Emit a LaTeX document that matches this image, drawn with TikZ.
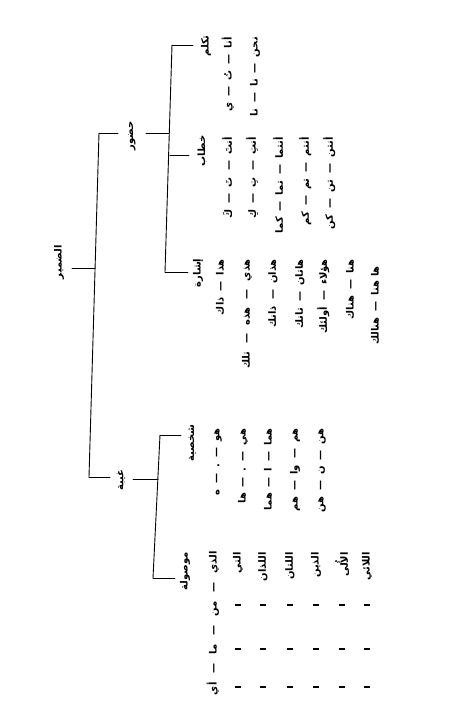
\documentclass[tikz,border=0pt]{standalone}
\usepackage{fontspec}
\TeXXeTstate=1
\newfontfamily\arabicfont[Script=Arabic]{DejaVu Sans}
\newcommand\arsep{\hspace{6pt}—\hspace{6pt}}
\newcommand\arwide{\hspace{9pt}—\hspace{9pt}}
\newcommand\arlong{\hspace{8pt}—\hspace{8pt}}
\begin{document}
\begin{tikzpicture}[x=1pt,y=-1pt,
  ar/.style={font=\arabicfont\bfseries\fontsize{10}{11}\selectfont, rotate=90, inner sep=0pt},
  col/.style={ar, anchor=east},
  br/.style={line width=0.9pt, line cap=round},
  ditto/.style={line width=2.4pt}]
\useasboundingbox (0,0) rectangle (475,722);
% labels
\node[ar] (root)  at (59,262)  {\beginR الضمير\endR};
\node[ar] (hudur) at (132,136) {\beginR حضور\endR};
\node[ar] (ghayba) at (121,480) {\beginR غيبة\endR};
\node[ar] (takal) at (206,46)  {\beginR تكلم\endR};
\node[ar] (khitab) at (202,151) {\beginR خطاب\endR};
\node[ar] (ishara) at (198,273) {\beginR إشارة\endR};
\node[ar] (shakh) at (192,443) {\beginR شخصية\endR};
\node[ar] (mawsul) at (185,571) {\beginR موصولة\endR};
% tree lines
\coordinate (vT) at (99,133);
\coordinate (vB) at (89,477);
\coordinate (vM) at (95,268);
\coordinate (rs) at (72,268);
\draw[br] (vT) -- (vB);
\draw[br] (rs) -- (vM);
\coordinate (hT) at (172,45);
\coordinate (hM) at (170,155);
\coordinate (hB) at (165,272);
\coordinate (hJ) at (169,133);
\draw[br] (vT) -- (118,133);
\draw[br] (146,133) -- (hJ);
\draw[br] (hT) -- (hB);
\draw[br] (hT) -- (193,45);
\draw[br] (hM) -- (189,155);
\draw[br] (hB) -- (188,272);
\coordinate (gT) at (160,435);
\coordinate (gB) at (153,578);
\coordinate (gJ) at (158,479);
\draw[br] (vB) -- (110,477);
\draw[br] (133,479) -- (gJ);
\draw[br] (gT) -- (gB);
\draw[br] (gT) -- (181,435);
\draw[br] (gB) -- (175,578);
% takallum
\node[col] (t1) at (228,37) {\beginR أنا\arsep تُ\arsep ي\endR};
\node[col] (t2) at (255,37) {\beginR نحن\arsep نا\arsep نا\endR};
% khitab
\node[col] (k1) at (227,137) {\beginR أنتَ\arsep تَ\arsep كَ\endR};
\node[col] (k2) at (252,137) {\beginR أنتِ\arsep تِ\arsep كِ\endR};
\node[col] (k3) at (278,137) {\beginR أنتما\arsep تما\arsep كما\endR};
\node[col] (k4) at (305,137) {\beginR أنتم\arsep تم\arsep كم\endR};
\node[col] (k5) at (329,137) {\beginR أنتن\arsep تن\arsep كن\endR};
% ishara
\node[col] (i1) at (220,259) {\beginR هذا\arsep ذاك\endR};
\node[col] (i2) at (247,259) {\beginR هذي\arlong هذه\arlong تلك\endR};
\node[col] (i3) at (273,259) {\beginR هذان\arsep ذانك\endR};
\node[col] (i4) at (300,259) {\beginR هاتان\arsep تانك\endR};
\node[col] (i5) at (323,259) {\beginR هؤلاء\arsep أولئك\endR};
\node[col] (i6) at (350,259) {\beginR هنا\arsep هناك\endR};
\node[col] (i7) at (375,266) {\beginR ها هنا\arsep هنالك\endR};
% shakhsiyya
\node[col] (s1) at (218,428) {\beginR هو\arsep .\arsep ه\endR};
\node[col] (s2) at (243,428) {\beginR هي\arsep .\arsep ها\endR};
\node[col] (s3) at (268,428) {\beginR هما\arsep ا\arsep هما\endR};
\node[col] (s4) at (295,428) {\beginR هم\arsep وا\arsep هم\endR};
\node[col] (s5) at (322,428) {\beginR هن\arsep ن\arsep هن\endR};
% mawsula
\node[col] (m1) at (213,551) {\beginR الذي\arwide من\arwide ما\arwide أي\endR};
\foreach \n/\x/\w in {m2/238/التي, m3/263/اللذان, m4/290/اللتان, m5/316/الذين, m6/342/الأُلى, m7/367/اللائي}{
  \node[col] (\n) at (\x,552) {\beginR \w\endR};
  \foreach \yy in {605,649,687}{
    \draw[ditto] (\x-3,\yy) -- (\x+3,\yy);
  }
}
\end{tikzpicture}
\end{document}
